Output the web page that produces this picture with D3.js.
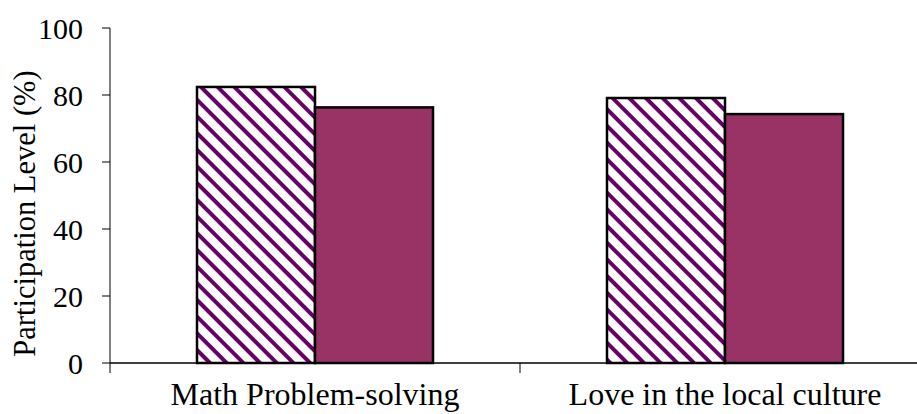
<!DOCTYPE html>
<html>
<head>
<meta charset="utf-8">
<script src="https://cdn.jsdelivr.net/npm/d3@7"></script>
<style>
  body { margin: 0; background: #fff; }
  text { font-family: "Liberation Serif", "Times New Roman", serif; fill: #000; }
</style>
</head>
<body>
<div id="chart"></div>
<script>
// data
const categories = ["Math Problem-solving", "Love in the local culture"];
const seriesA = [82.4, 79.1];
const seriesB = [76.3, 74.3];
const yTicks = [0, 20, 40, 60, 80, 100];

const W = 917, H = 414;
const x0 = 110, yBottom = 363, yTop = 28;

const svg = d3.select("#chart").append("svg")
    .attr("width", W).attr("height", H);

// diagonal hatch pattern (stripes running top-left to bottom-right)
const defs = svg.append("defs");
const pat = defs.append("pattern")
    .attr("id", "hatch")
    .attr("patternUnits", "userSpaceOnUse")
    .attr("width", 11.8).attr("height", 11.8)
    .attr("patternTransform", "rotate(45)");
pat.append("rect").attr("width", 11.8).attr("height", 11.8).attr("fill", "#fff");
pat.append("rect").attr("x", 0).attr("y", 0).attr("width", 11.8).attr("height", 4).attr("fill", "#660066");

const x = d3.scaleBand()
    .domain(categories)
    .range([x0, x0 + 2 * 410]);

const y = d3.scaleLinear()
    .domain([0, 100])
    .range([yBottom, yTop]);

const barW = 118;
const offset = (x.bandwidth() - 2 * barW) / 2;

const rows = categories.map((c, i) => ({ cat: c, vals: [seriesA[i], seriesB[i]] }));

const g = svg.append("g");
rows.forEach(r => {
    r.vals.forEach((v, j) => {
        g.append("rect")
            .attr("x", x(r.cat) + offset + j * barW)
            .attr("y", y(v))
            .attr("width", barW)
            .attr("height", y(0) - y(v))
            .attr("fill", j === 0 ? "url(#hatch)" : "#993366")
            .attr("stroke", "#000")
            .attr("stroke-width", 2.5);
    });
});

// y axis
const yAxis = svg.append("g");
yAxis.append("line")
    .attr("x1", x0).attr("x2", x0)
    .attr("y1", y(100)).attr("y2", yBottom + 10)
    .attr("stroke", "#000").attr("stroke-width", 1);
yTicks.forEach(t => {
    yAxis.append("line")
        .attr("x1", x0 - 8).attr("x2", x0)
        .attr("y1", y(t)).attr("y2", y(t))
        .attr("stroke", "#000").attr("stroke-width", 1);
    yAxis.append("text")
        .attr("x", 83).attr("y", y(t))
        .attr("dy", "0.35em")
        .attr("text-anchor", "end")
        .attr("font-size", 30)
        .text(t);
});

// x axis
svg.append("line")
    .attr("x1", x0).attr("x2", W)
    .attr("y1", yBottom).attr("y2", yBottom)
    .attr("stroke", "#000").attr("stroke-width", 1.5);
categories.forEach(c => {
    svg.append("line")
        .attr("x1", x(c) + x.bandwidth()).attr("x2", x(c) + x.bandwidth())
        .attr("y1", yBottom).attr("y2", yBottom + 10)
        .attr("stroke", "#000").attr("stroke-width", 1);
    svg.append("text")
        .attr("x", x(c) + x.bandwidth() / 2)
        .attr("y", 405)
        .attr("text-anchor", "middle")
        .attr("font-size", 32)
        .text(c);
});

// y title
svg.append("text")
    .attr("transform", `translate(35, ${(yTop + yBottom) / 2 + 18}) rotate(-90)`)
    .attr("text-anchor", "middle")
    .attr("font-size", 30.5)
    .text("Participation Level (%)");
</script>
</body>
</html>
